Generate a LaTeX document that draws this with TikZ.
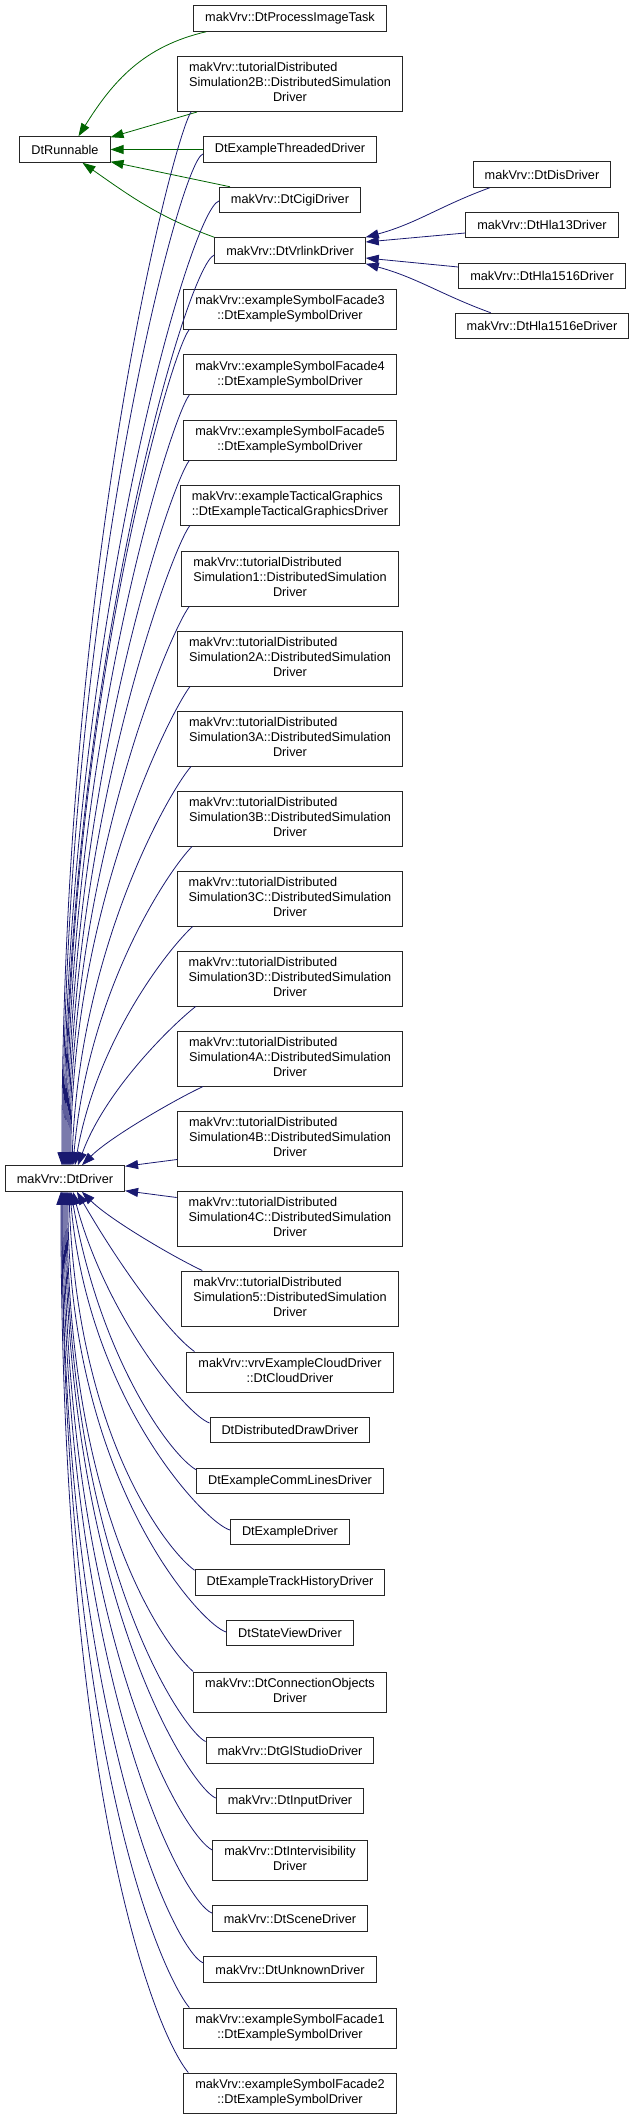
\documentclass[tikz,border=0pt]{standalone}
\usepackage{fontspec}
\setmainfont{Liberation Sans}
\usetikzlibrary{arrows.meta,calc}
\definecolor{inhblue}{RGB}{25,25,112}
\definecolor{inhgreen}{RGB}{0,100,0}
\newcommand{\twoline}[2]{\begin{tabular}{@{}l@{}}#1\\\multicolumn{1}{@{}c@{}}{#2}\end{tabular}}
\newcommand{\threeline}[3]{\begin{tabular}{@{}l@{}}#1\\#2\\\multicolumn{1}{@{}c@{}}{#3}\end{tabular}}

\begin{document}
\begin{tikzpicture}[x=1pt, y=1pt,
    cls/.style={rectangle, draw=black!85, line width=1pt, fill=white, minimum height=25.5pt,
        inner xsep=11.5pt, inner ysep=5pt, font=\fontsize{12.7}{15}\selectfont},
    pubedge/.style={color=inhblue, line width=0.8pt, -{Triangle[length=13pt,width=9pt]}},
    protedge/.style={color=inhgreen, line width=0.8pt, -{Triangle[length=13pt,width=9pt]}}
]
    \useasboundingbox (0,0) rectangle (632,-2119);

    % Base classes
    \node[cls] (dtrunnable) at (65,-149.5) {DtRunnable};
    \node[cls] (dtdriver) at (65,-1178.5) {makVrv::DtDriver};

    % Derived classes
    \foreach \n/\y/\t in {pit/18.5/makVrv::DtProcessImageTask,
        sim2b/84/{\threeline{makVrv::tutorialDistributed}{Simulation2B::DistributedSimulation}{Driver}},
        threaded/149.5/DtExampleThreadedDriver,
        cigi/200/makVrv::DtCigiDriver,
        vrlink/250.5/makVrv::DtVrlinkDriver,
        facade3/309/{\twoline{makVrv::exampleSymbolFacade3}{::DtExampleSymbolDriver}},
        facade4/374.5/{\twoline{makVrv::exampleSymbolFacade4}{::DtExampleSymbolDriver}},
        facade5/440/{\twoline{makVrv::exampleSymbolFacade5}{::DtExampleSymbolDriver}},
        tactical/505/{\twoline{makVrv::exampleTacticalGraphics}{::DtExampleTacticalGraphicsDriver}},
        sim1/578.5/{\threeline{makVrv::tutorialDistributed}{Simulation1::DistributedSimulation}{Driver}},
        sim2a/658.5/{\threeline{makVrv::tutorialDistributed}{Simulation2A::DistributedSimulation}{Driver}},
        sim3a/738.5/{\threeline{makVrv::tutorialDistributed}{Simulation3A::DistributedSimulation}{Driver}},
        sim3b/818.5/{\threeline{makVrv::tutorialDistributed}{Simulation3B::DistributedSimulation}{Driver}},
        sim3c/898.5/{\threeline{makVrv::tutorialDistributed}{Simulation3C::DistributedSimulation}{Driver}},
        sim3d/978.5/{\threeline{makVrv::tutorialDistributed}{Simulation3D::DistributedSimulation}{Driver}},
        sim4a/1058.5/{\threeline{makVrv::tutorialDistributed}{Simulation4A::DistributedSimulation}{Driver}},
        sim4b/1138.5/{\threeline{makVrv::tutorialDistributed}{Simulation4B::DistributedSimulation}{Driver}},
        sim4c/1218.5/{\threeline{makVrv::tutorialDistributed}{Simulation4C::DistributedSimulation}{Driver}},
        sim5/1298.5/{\threeline{makVrv::tutorialDistributed}{Simulation5::DistributedSimulation}{Driver}},
        cloud/1372/{\twoline{makVrv::vrvExampleCloudDriver}{::DtCloudDriver}},
        distdraw/1430/DtDistributedDrawDriver,
        commlines/1481/DtExampleCommLinesDriver,
        exdriver/1532/DtExampleDriver,
        track/1582.5/DtExampleTrackHistoryDriver,
        stateview/1633/DtStateViewDriver,
        connobj/1692/{\twoline{makVrv::DtConnectionObjects}{Driver}},
        glstudio/1750.5/makVrv::DtGlStudioDriver,
        input/1801/makVrv::DtInputDriver,
        intervis/1860/{\twoline{makVrv::DtIntervisibility}{Driver}},
        scene/1918.5/makVrv::DtSceneDriver,
        unknown/1969.5/makVrv::DtUnknownDriver,
        facade1/2028/{\twoline{makVrv::exampleSymbolFacade1}{::DtExampleSymbolDriver}},
        facade2/2093/{\twoline{makVrv::exampleSymbolFacade2}{::DtExampleSymbolDriver}}} {
        \node[cls] (\n) at (290,-\y) {\t};
    }

    % Vrlink drivers
    \foreach \n/\y/\t in {dis/174.5/makVrv::DtDisDriver, hla13/225/makVrv::DtHla13Driver,
        hla1516/276/makVrv::DtHla1516Driver, hla1516e/326/makVrv::DtHla1516eDriver} {
        \node[cls] (\n) at (542,-\y) {\t};
    }

    % DtRunnable
    \draw[protedge] ([xshift=13pt]pit.south west) to[out=193,in=58] ([xshift=59pt]dtrunnable.north west);
    \draw[protedge] ([xshift=20pt]sim2b.south west) -- ([yshift=-1pt]dtrunnable.north east);
    \draw[protedge] (threaded.west) -- (dtrunnable.east);
    \draw[protedge] ([xshift=11pt]cigi.north west) -- ([yshift=1pt]dtrunnable.south east);
    \draw[protedge] (vrlink.north west) to[out=160,in=-35] ([xshift=63pt]dtrunnable.south west);

    % DtVrlinkDriver
    \draw[pubedge] ([xshift=17pt]dis.south west) to[out=200,in=15] (vrlink.north east);
    \draw[pubedge] ([yshift=-8pt]hla13.west) -- ([yshift=8.5pt]vrlink.east);
    \draw[pubedge] ([yshift=9pt]hla1516.west) -- ([yshift=-7.5pt]vrlink.east);
    \draw[pubedge] ([xshift=36pt]hla1516e.north west) to[out=160,in=-15] (vrlink.south east);

    % DtDriver, from above
    \foreach \src/\sx/\sy/\tx/\o/\a/\i/\b in {sim2b.south west/14/0/57/235/30/90/600,
        threaded.west/0/-4.5/58/200/25/90/560, cigi.west/0/-1/59/195/30/90/520,
        vrlink.west/0/-4.5/60/200/30/90/480, facade3.south west/6/0/61/230/30/90/450,
        facade4.south west/6/0/62/232/30/90/420, facade5.south west/6/0/63/232/30/90/380,
        tactical.south west/10/0/64/232/30/90/340, sim1.south west/8/0/65/232/30/90/300,
        sim2a.south west/13/0/66/232/30/90/260, sim3a.south west/14/0/67/228/30/88/220,
        sim3b.south west/15/0/68/225/30/85/180, sim3c.south west/16/0/70/222/30/80/130,
        sim3d.south west/19/0/73/218/30/70/80, sim4a.south west/26/0/77/205/30/45/40} {
        \draw[pubedge] ([xshift=\sx pt,yshift=\sy pt]\src) .. controls +(\o:\a) and +(\i:\b) .. ([xshift=\tx pt]dtdriver.north west);
    }
    \draw[pubedge] ([yshift=7pt]sim4b.south west) -- ([yshift=-1pt]dtdriver.north east);
    \draw[pubedge] ([yshift=-7pt]sim4c.north west) -- ([yshift=1pt]dtdriver.south east);

    % DtDriver, from below
    \foreach \src/\sx/\sy/\tx/\o/\a/\i/\b in {sim5.north west/21/0/77/155/30/315/40,
        cloud.north west/8/0/72/145/30/300/90, distdraw.west/0/7/68/160/25/285/130,
        commlines.north west/0/-2/66/150/30/280/170, exdriver.west/0/2/65/165/25/275/210,
        track.north west/0/-1/64/145/30/272/250, stateview.west/0/1/63/165/25/270/290,
        connobj.north west/0/0/62/140/30/270/330, glstudio.west/0/9/61/155/25/270/370,
        input.west/0/3/60/160/25/270/410, intervis.west/0/10/59/155/30/270/450,
        scene.west/0/5.5/58/160/30/270/490, unknown.west/0/6.5/57/160/30/270/530,
        facade1.north west/6/0/57/130/40/270/570, facade2.north west/5/0/56/130/50/270/610} {
        \draw[pubedge] ([xshift=\sx pt,yshift=\sy pt]\src) .. controls +(\o:\a) and +(\i:\b) .. ([xshift=\tx pt]dtdriver.south west);
    }
\end{tikzpicture}
\end{document}
